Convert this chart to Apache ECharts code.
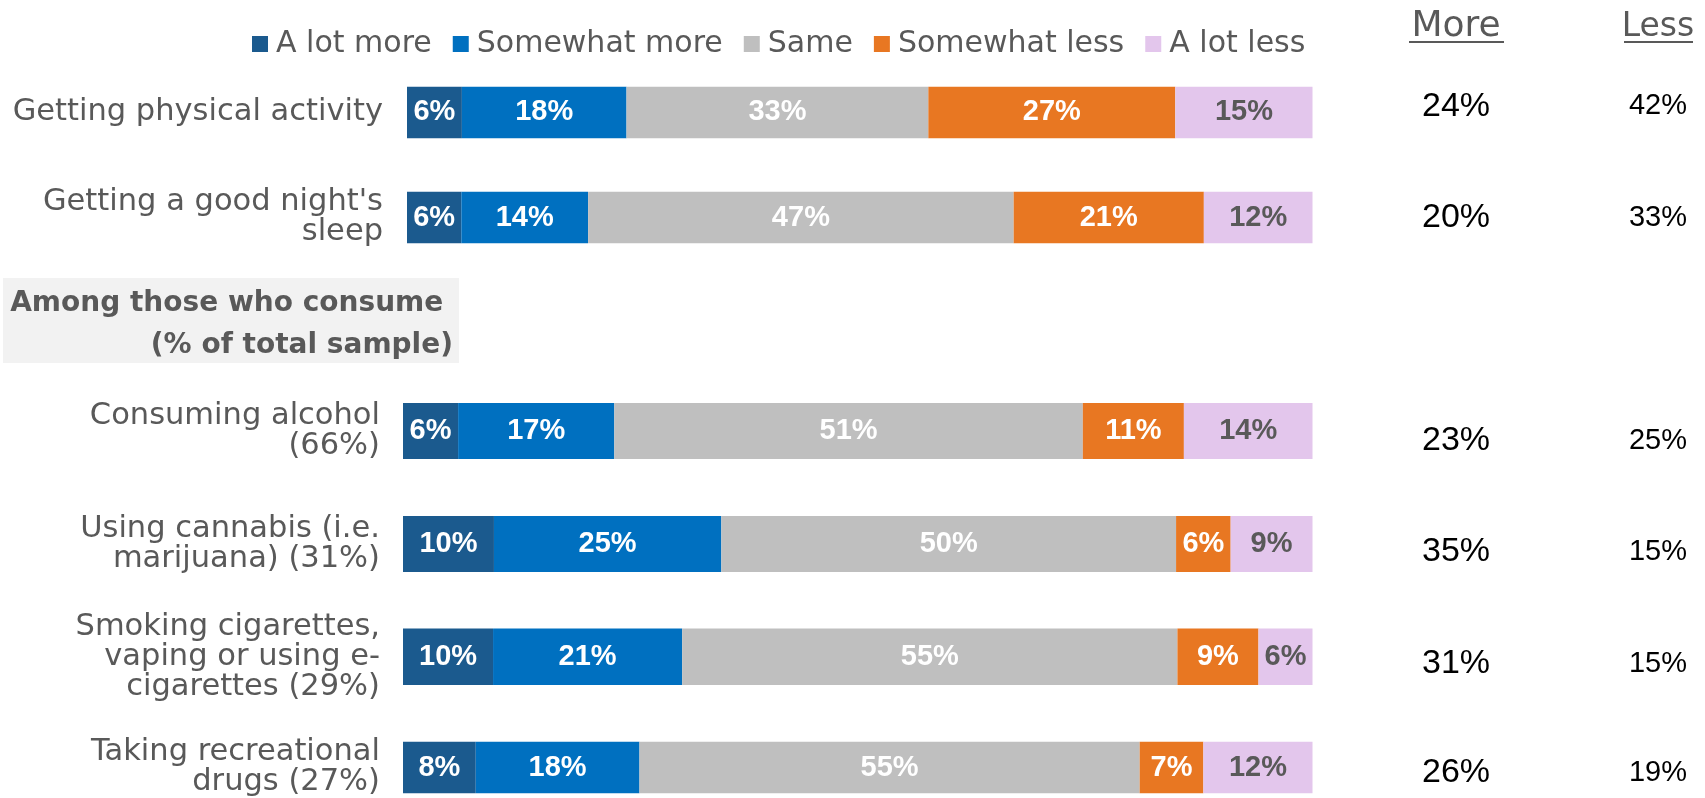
<!DOCTYPE html>
<html><head><meta charset="utf-8">
<script src="https://cdn.jsdelivr.net/npm/echarts@6/dist/echarts.min.js"></script>
<style>html,body{margin:0;padding:0;background:#fff}#c{width:1705px;height:798px}</style>
</head><body><div id="c"></div>
<script>
// ---- data ----
const categories = ["Getting physical activity", "Getting a good night's\nsleep", "Consuming alcohol\n(66%)", "Using cannabis (i.e.\nmarijuana) (31%)", "Smoking cigarettes,\nvaping or using e-\ncigarettes (29%)", "Taking recreational\ndrugs (27%)"];
const seriesNames = ["A lot more", "Somewhat more", "Same", "Somewhat less", "A lot less"];
const aLotMore     = [6, 6, 6, 10, 10, 8];
const somewhatMore = [18, 14, 17, 25, 21, 18];
const same         = [33, 47, 51, 50, 55, 55];
const somewhatLess = [27, 21, 11, 6, 9, 7];
const aLotLess     = [15, 12, 14, 9, 6, 12];
const moreTotals   = [24, 20, 23, 35, 31, 26];
const lessTotals   = [42, 33, 25, 15, 15, 19];
const columnHeaders = ["More", "Less"];
const sectionHeading = "Among those who consume \n(% of total sample)";

// ---- styling / layout ----
const seriesValues = [aLotMore, somewhatMore, same, somewhatLess, aLotLess];
const colors = ['#1B5A8E', '#0070C0', '#BFBFBF', '#E87722', '#E3C6EC'];
const labelColors = ['#fff', '#fff', '#fff', '#fff', '#595959'];
const rows = [
  {top: 86.7, height: 51.5, left: 407, margin: 24, dy: -6},
  {top: 191.7, height: 51.6, left: 407, margin: 24, dy: 0},
  {top: 403, height: 56, left: 403, margin: 23, dy: 10},
  {top: 516, height: 56, left: 403, margin: 23, dy: 8},
  {top: 628.5, height: 56.5, left: 403, margin: 23, dy: 7},
  {top: 741.7, height: 60, left: 403, margin: 23, dy: 6}
];
const barRight = 1312.5;
const W = 1705;
const FONT = "'DejaVu Sans', sans-serif";
const NUMFONT = "'Liberation Sans', Arial, sans-serif";
const moreX = 1456, lessX = 1658;

const grid = [], xAxis = [], yAxis = [], series = [];
const hiddenAxis = {axisLine: {show: false}, axisTick: {show: false}, splitLine: {show: false}};
rows.forEach((r, i) => {
  // bar grid
  grid.push({left: r.left, right: W - barRight, top: r.top, height: r.height, containLabel: false});
  const rowSum = seriesValues.reduce((s, arr) => s + arr[i], 0);
  xAxis.push({type: 'value', gridIndex: i, min: 0, max: rowSum, show: false});
  yAxis.push(Object.assign({
    type: 'category', gridIndex: i, data: [categories[i]],
    axisLabel: {margin: r.margin, fontSize: 30.5, lineHeight: 30, color: '#595959', fontFamily: FONT}
  }, hiddenAxis));
  seriesNames.forEach((name, k) => {
    series.push({
      type: 'bar', name: name, stack: 'row' + i,
      xAxisIndex: i, yAxisIndex: i,
      barWidth: '100%',
      data: [seriesValues[k][i]],
      itemStyle: {color: colors[k]},
      label: {
        show: true, position: 'inside', formatter: '{c}%',
        fontFamily: NUMFONT, fontWeight: 'bold', fontSize: 29, color: labelColors[k]
      },
      emphasis: {disabled: true}
    });
  });
});
// total-value grids (right-hand More / Less columns)
rows.forEach((r, i) => {
  const g = rows.length + i;
  grid.push({left: r.left, right: W - barRight, top: r.top + r.dy, height: r.height, containLabel: false});
  xAxis.push({type: 'value', gridIndex: g, min: 0, max: 1, show: false});
  yAxis.push(Object.assign({
    type: 'category', gridIndex: g, position: 'right', data: [moreTotals[i] + '%'],
    axisLabel: {margin: moreX - barRight, align: 'center', fontSize: 34, color: '#000', fontFamily: NUMFONT}
  }, hiddenAxis));
  yAxis.push(Object.assign({
    type: 'category', gridIndex: g, position: 'right', data: [lessTotals[i] + '%'],
    axisLabel: {margin: lessX - barRight, align: 'center', fontSize: 29, color: '#000', fontFamily: NUMFONT}
  }, hiddenAxis));
});

const chart = echarts.init(document.getElementById('c'), null, {renderer: 'canvas'});
chart.setOption({
  animation: false,
  backgroundColor: '#fff',
  legend: {
    data: seriesNames, left: 247, top: 24, icon: 'rect',
    itemWidth: 16, itemHeight: 16, itemGap: 21,
    textStyle: {fontSize: 30, color: '#595959', fontFamily: FONT, padding: [0, 0, 0, 3]}
  },
  grid: grid, xAxis: xAxis, yAxis: yAxis, series: series,
  graphic: [
    {type: 'rect', shape: {x: 3, y: 278, width: 456, height: 85}, style: {fill: '#F2F2F2'}, silent: true},
    {type: 'text', x: 453, y: 325, silent: true, style: {
      text: sectionHeading, align: 'right', verticalAlign: 'middle',
      font: "bold 28px 'DejaVu Sans', sans-serif", lineHeight: 42, fill: '#595959'}},
    {type: 'text', x: moreX, y: 27, silent: true, style: {
      text: columnHeaders[0], align: 'center', verticalAlign: 'middle',
      font: "36px 'DejaVu Sans', sans-serif", fill: '#595959'}},
    {type: 'text', x: lessX, y: 27, silent: true, style: {
      text: columnHeaders[1], align: 'center', verticalAlign: 'middle',
      font: "33px 'DejaVu Sans', sans-serif", fill: '#595959'}},
    {type: 'line', silent: true, shape: {x1: 1409, y1: 42, x2: 1504, y2: 42}, style: {stroke: '#595959', lineWidth: 2}},
    {type: 'line', silent: true, shape: {x1: 1624, y1: 42, x2: 1693, y2: 42}, style: {stroke: '#595959', lineWidth: 2}}
  ]
});
</script>
</body></html>
